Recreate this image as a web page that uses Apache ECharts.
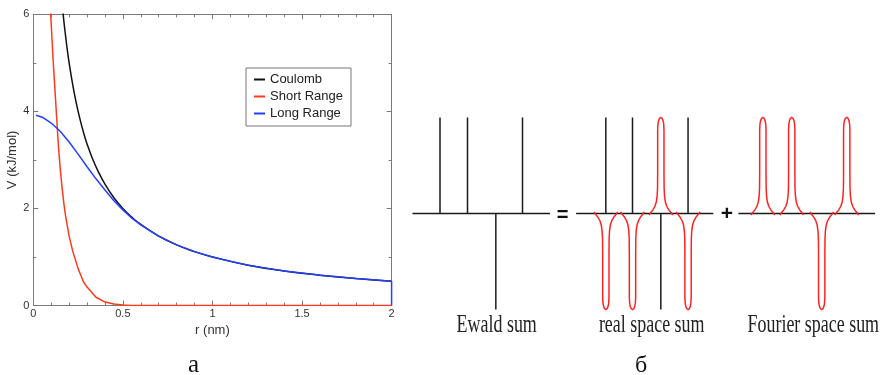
<!DOCTYPE html>
<html>
<head>
<meta charset="utf-8">
<script src="https://cdn.jsdelivr.net/npm/echarts@6/dist/echarts.min.js"></script>
<style>
  html, body { margin: 0; padding: 0; background: #fff; }
  #chart { width: 885px; height: 375px; }
</style>
</head>
<body>
<div id="chart"></div>
<script>
// panel a: potentials, r in nm, V in kJ/mol
const rCoulomb = [0.16, 0.17, 0.18, 0.19, 0.2, 0.22, 0.24, 0.26, 0.28, 0.3, 0.33, 0.36, 0.4, 0.45, 0.5, 0.55, 0.6, 0.7, 0.8, 0.9, 1.0, 1.2, 1.4, 1.6, 1.8, 2.0]
const vCoulomb = [6.25, 5.88, 5.56, 5.26, 5.0, 4.55, 4.17, 3.85, 3.57, 3.33, 3.03, 2.78, 2.5, 2.22, 2.0, 1.82, 1.67, 1.43, 1.25, 1.11, 1.0, 0.83, 0.71, 0.625, 0.555, 0.5]

const rShort = [0.09, 0.1, 0.11, 0.12, 0.13, 0.14, 0.15, 0.16, 0.17, 0.18, 0.2, 0.22, 0.25, 0.28, 0.3, 0.35, 0.4, 0.45, 0.5, 0.55, 0.6, 1.0, 1.5, 2.0]
const vShort = [6.5, 5.8, 5.1, 4.5, 3.9, 3.3, 2.83, 2.45, 2.12, 1.85, 1.43, 1.12, 0.76, 0.49, 0.38, 0.17, 0.07, 0.03, 0.01, 0, 0, 0, 0, 0]

const rLong = [0.015, 0.05, 0.1, 0.15, 0.2, 0.25, 0.3, 0.35, 0.4, 0.45, 0.5, 0.55, 0.6, 0.7, 0.8, 0.9, 1.0, 1.1, 1.2, 1.3, 1.4, 1.5, 1.6, 1.7, 1.8, 1.9, 2.0, 2.0]
const vLong = [3.92, 3.88, 3.76, 3.59, 3.37, 3.12, 2.86, 2.61, 2.38, 2.16, 1.97, 1.80, 1.66, 1.43, 1.25, 1.11, 1.0, 0.91, 0.83, 0.77, 0.71, 0.67, 0.625, 0.59, 0.555, 0.53, 0.5, 0]

const seriesNames = ['Coulomb', 'Short Range', 'Long Range']

// panel б: charge sites (in site spacings) and their signs
const ewaldSites = [1.0, 2.0, 3.03, 4.0]
const realSites = [7.03, 8.0, 9.03, 10.02]
const fourierSites = [12.74, 13.79, 14.88, 15.79]
const charges = [1, 1, -1, 1]
const baselines = [[0, 5], [5.95, 10.94], [11.85, 16.82]]

// half profile of a screening peak: offset from site, height as fraction of a charge
const peakOffset = [0, 0.05, 0.085, 0.105, 0.115, 0.115, 0.12, 0.135, 0.165, 0.215, 0.29, 0.38, 0.43]
const peakHeight = [1, 0.99, 0.965, 0.93, 0.87, 0.42, 0.26, 0.18, 0.12, 0.075, 0.038, 0.006, -0.016]

const panelLabels = ['Ewald sum', 'real space sum', 'Fourier space sum']

const pairs = (xs, ys) => xs.map((x, i) => [x, ys[i]])

const peakCoords = (site, sign) => {
  const left = peakOffset.map((o, i) => [site - o, sign * peakHeight[i]]).reverse()
  const right = peakOffset.slice(1).map((o, i) => [site + o, sign * peakHeight[i + 1]])
  return left.concat(right)
}

const stick = (site, sign) => ({ coords: [[site, 0], [site, sign]] })

const blackLines = [
  ...baselines.map((b) => ({ coords: [[b[0], 0], [b[1], 0]] })),
  ...ewaldSites.map((s, i) => stick(s, charges[i])),
  ...realSites.map((s, i) => stick(s, charges[i])),
]
const redLines = [
  ...realSites.map((s, i) => ({ coords: peakCoords(s, -charges[i]) })),
  ...fourierSites.map((s, i) => ({ coords: peakCoords(s, charges[i]) })),
]

const sans = 'Liberation Sans, Arial, sans-serif'
const serif = 'Liberation Serif, Times New Roman, serif'
const frame = '#7a7a7a'

// every side of the plot box is an axis, ticks pointing in
const frameAxis = (extra) => Object.assign({
  type: 'value',
  gridIndex: 0,
  axisLine: { show: true, onZero: false, lineStyle: { color: frame, width: 1 } },
  axisTick: { show: true, inside: true, length: 5, lineStyle: { color: frame } },
  splitLine: { show: false },
  axisLabel: { show: false },
}, extra)

const hiddenAxis = (min, max) => ({
  type: 'value', gridIndex: 1, min, max, show: false,
  axisLine: { show: false }, axisTick: { show: false }, splitLine: { show: false }, axisLabel: { show: false },
})

const chart = echarts.init(document.getElementById('chart'), null, { renderer: 'canvas' })

const option = {
  animation: false,
  backgroundColor: '#fff',
  grid: [
    { left: 33.3, top: 14.3, width: 358.3, height: 291.2 },
    { left: 412.5, right: 5, top: 98.3, height: 230.4 },
  ],
  legend: {
    data: seriesNames,
    orient: 'vertical',
    left: 246,
    top: 68,
    padding: [5, 8, 6, 8],
    itemGap: 4,
    itemWidth: 11,
    itemHeight: 2,
    icon: 'rect',
    borderColor: '#777',
    borderWidth: 1,
    textStyle: { fontFamily: sans, fontSize: 13, color: '#222' },
  },
  xAxis: [
    frameAxis({
      min: 0, max: 2, interval: 0.5,
      minorTick: { show: true, splitNumber: 5, length: 3, lineStyle: { color: frame } },
      axisLabel: { show: true, margin: 3, fontFamily: sans, fontSize: 11, color: '#333' },
      name: 'r (nm)',
      nameLocation: 'middle',
      nameGap: 18,
      nameTextStyle: { fontFamily: sans, fontSize: 13, color: '#333' },
    }),
    frameAxis({
      position: 'top', min: 0, max: 2, interval: 0.5,
      minorTick: { show: true, splitNumber: 5, length: 3, lineStyle: { color: frame } },
    }),
    hiddenAxis(0, 17),
  ],
  yAxis: [
    frameAxis({
      min: 0, max: 6, interval: 2,
      minorTick: { show: true, splitNumber: 2, length: 3, lineStyle: { color: frame } },
      axisLabel: { show: true, margin: 4, fontFamily: sans, fontSize: 11, color: '#333' },
      name: 'V (kJ/mol)',
      nameLocation: 'middle',
      nameGap: 14,
      nameTextStyle: { fontFamily: sans, fontSize: 13, color: '#333' },
    }),
    frameAxis({
      position: 'right', min: 0, max: 6, interval: 2,
      minorTick: { show: true, splitNumber: 2, length: 3, lineStyle: { color: frame } },
    }),
    hiddenAxis(-1.2, 1.2),
  ],
  series: [
    {
      name: 'Coulomb', type: 'line', showSymbol: false, smooth: true, clip: true,
      data: pairs(rCoulomb, vCoulomb),
      lineStyle: { color: '#111', width: 1.5 }, itemStyle: { color: '#111' },
    },
    {
      name: 'Short Range', type: 'line', showSymbol: false, clip: true,
      data: pairs(rShort, vShort),
      lineStyle: { color: '#ff3a1c', width: 1.5 }, itemStyle: { color: '#ff3a1c' },
    },
    {
      name: 'Long Range', type: 'line', showSymbol: false, clip: true,
      data: pairs(rLong, vLong),
      lineStyle: { color: '#2240ff', width: 1.5 }, itemStyle: { color: '#2240ff' },
    },
    {
      type: 'lines', coordinateSystem: 'cartesian2d', xAxisIndex: 2, yAxisIndex: 2,
      polyline: true, silent: true,
      data: blackLines,
      lineStyle: { color: '#1a1a1a', width: 1.5, opacity: 1 },
    },
    {
      type: 'lines', coordinateSystem: 'cartesian2d', xAxisIndex: 2, yAxisIndex: 2,
      polyline: true, silent: true,
      data: redLines,
      lineStyle: { color: '#ff2222', width: 1.5, opacity: 1 },
    },
  ],
  graphic: [
    { type: 'text', x: 193.5, y: 365, style: { text: 'а', font: '25px ' + serif, fill: '#111', align: 'center', verticalAlign: 'middle' } },
    { type: 'text', x: 641, y: 366, style: { text: 'б', font: '24px ' + serif, fill: '#111', align: 'center', verticalAlign: 'middle' } },
    { type: 'text', x: 562.5, y: 215, style: { text: '=', font: 'bold 20px ' + sans, fill: '#111', align: 'center', verticalAlign: 'middle' } },
    { type: 'text', x: 727, y: 214.5, style: { text: '+', font: 'bold 21px ' + sans, fill: '#111', align: 'center', verticalAlign: 'middle' } },
    { type: 'text', x: 496.7, y: 325, scaleX: 0.69, style: { text: panelLabels[0], font: '26px ' + serif, fill: '#222', align: 'center', verticalAlign: 'middle' } },
    { type: 'text', x: 651.7, y: 325, scaleX: 0.69, style: { text: panelLabels[1], font: '26px ' + serif, fill: '#222', align: 'center', verticalAlign: 'middle' } },
    { type: 'text', x: 813.3, y: 325, scaleX: 0.69, style: { text: panelLabels[2], font: '26px ' + serif, fill: '#222', align: 'center', verticalAlign: 'middle' } },
  ],
}

option && chart.setOption(option)
</script>
</body>
</html>
